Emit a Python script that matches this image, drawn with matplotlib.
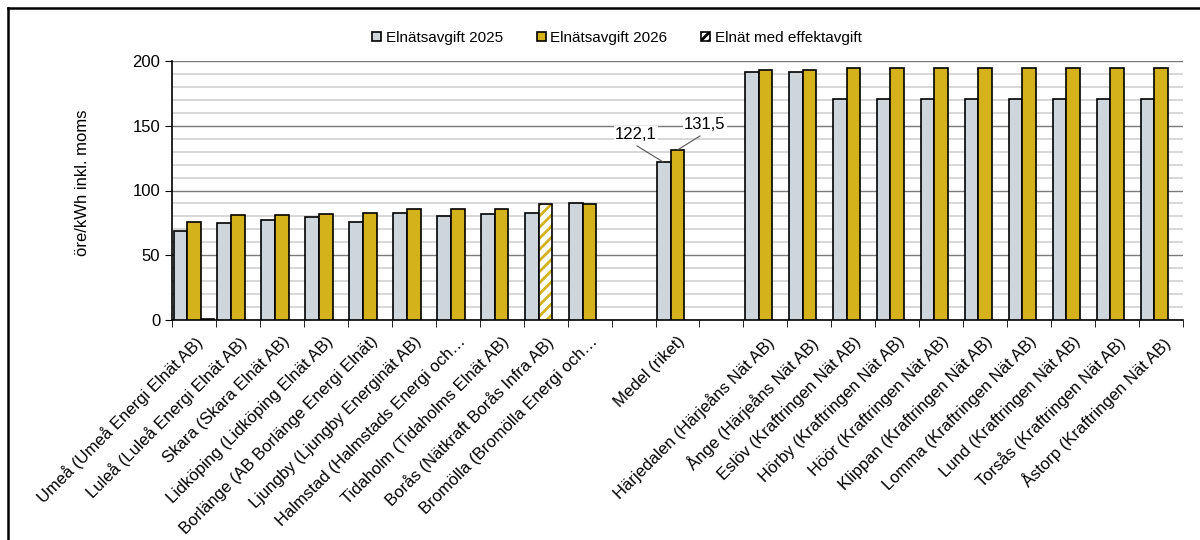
import matplotlib
matplotlib.use("Agg")
import matplotlib.pyplot as plt
from matplotlib.patches import Rectangle
from matplotlib.lines import Line2D
import numpy as np

plt.rcParams['font.family'] = ['Liberation Sans', 'DejaVu Sans']
plt.rcParams['hatch.linewidth'] = 2.0

nan = np.nan
categories = [
    "Umeå (Umeå Energi Elnät AB)", "Luleå (Luleå Energi Elnät AB)",
    "Skara (Skara Elnät AB)", "Lidköping (Lidköping Elnät AB)",
    "Borlänge (AB Borlänge Energi Elnät)", "Ljungby (Ljungby Energinät AB)",
    "Halmstad (Halmstads Energi och…", "Tidaholm (Tidaholms Elnät AB)",
    "Borås (Nätkraft Borås Infra AB)", "Bromölla (Bromölla Energi och…",
    "", "Medel (riket)", "",
    "Härjedalen (Härjeåns Nät AB)", "Ånge (Härjeåns Nät AB)",
    "Eslöv (Kraftringen Nät AB)", "Hörby (Kraftringen Nät AB)",
    "Höör (Kraftringen Nät AB)", "Klippan (Kraftringen Nät AB)",
    "Lomma (Kraftringen Nät AB)", "Lund (Kraftringen Nät AB)",
    "Torsås (Kraftringen Nät AB)", "Åstorp (Kraftringen Nät AB)",
]
avg_2025 = [68.9, 74.6, 77.2, 79.5, 75.6, 82.3, 80.0, 81.8, 82.8, 90.6,
            nan, 122.1, nan,
            191.7, 191.7, 170.6, 170.6, 170.6, 170.6, 170.6, 170.6, 170.6, 170.6]
avg_2026 = [75.4, 81.0, 81.0, 82.1, 82.6, 85.4, 85.9, 85.9, nan, 89.8,
            nan, 131.5, nan,
            193.3, 193.3, 194.8, 194.8, 194.8, 194.8, 194.8, 194.8, 194.8, 194.8]
# Borås 2026 value has effektavgift (drawn hatched in the 2026 slot)
effekt_2026 = [nan] * 8 + [89.5] + [nan] * 14
# the third series only shows a sliver at Umeå
effekt_series = [0.8] + [nan] * 22

GRAY = "#CED6DC"
GOLD = "#D3B21C"

fig = plt.figure(figsize=(12, 5.4), dpi=100)
ax = fig.add_axes([172 / 1200, 1 - 320 / 540, (1183 - 172) / 1200, (320 - 61) / 540])

x = np.arange(len(categories))
w = 0.31
ax.bar(x - w, avg_2025, w, color=GRAY, edgecolor="black", linewidth=1.2, zorder=3)
ax.bar(x, avg_2026, w, color=GOLD, edgecolor="black", linewidth=1.2, zorder=3)
ax.bar(x, effekt_2026, w, color="white", edgecolor=GOLD, hatch="///", linewidth=0, zorder=3)
ax.bar(x, effekt_2026, w, fill=False, edgecolor="black", linewidth=1.2, zorder=4)
ax.bar(x + w, effekt_series, w, color="black", edgecolor="black", linewidth=1.2, zorder=3)

ax.set_xlim(-0.5, len(categories) - 0.5)
ax.set_ylim(0, 200)
ax.set_yticks(np.arange(0, 201, 50))
ax.set_yticks(np.arange(0, 201, 10), minor=True)
ax.grid(axis="y", which="minor", color="#D4D4D4", linewidth=1.3, zorder=0)
ax.grid(axis="y", which="major", color="#7A7A7A", linewidth=1.0, zorder=1)
ax.tick_params(axis="y", which="minor", length=0)
ax.tick_params(axis="y", which="major", length=5, labelsize=12, color="black")

ax.set_xticks(x)
ax.set_xticklabels(categories, rotation=45, ha="right", va="top",
                   rotation_mode="anchor", fontsize=12)
ax.set_xticks(np.arange(-0.5, len(categories)), minor=True)
ax.tick_params(axis="x", which="major", length=0, pad=10)
ax.tick_params(axis="x", which="minor", length=5, color="black")

for s in ["top", "right"]:
    ax.spines[s].set_visible(False)
for s in ["left", "bottom"]:
    ax.spines[s].set_color("black")
    ax.spines[s].set_linewidth(1.2)

ax.set_ylabel("öre/kWh inkl. moms", fontsize=12)
ax.yaxis.set_label_coords(-0.081, 0.53)

# Medel labels with leader lines
ax.plot([10.08, 10.67], [134.4, 122.1], color="#555555", linewidth=0.8, zorder=5)
ax.plot([11.01, 11.51], [131.5, 142.1], color="#555555", linewidth=0.8, zorder=5)
ax.text(10.055, 142.9, "122,1", ha="center", va="center", fontsize=12, zorder=6,
        bbox=dict(facecolor="white", edgecolor="none", pad=1))
ax.text(11.625, 150.6, "131,5", ha="center", va="center", fontsize=12, zorder=6,
        bbox=dict(facecolor="white", edgecolor="none", pad=1))

handles = [
    Rectangle((0, 0), 1, 1, facecolor=GRAY, edgecolor="black", linewidth=1.2),
    Rectangle((0, 0), 1, 1, facecolor=GOLD, edgecolor="black", linewidth=1.2),
    Rectangle((0, 0), 1, 1, facecolor="white", edgecolor="black", hatch="////", linewidth=1.2),
]
fig.legend(handles, ["Elnätsavgift 2025", "Elnätsavgift 2026", "Elnät med effektavgift"],
           loc="center", bbox_to_anchor=(617 / 1200, 1 - 38 / 540), ncol=3, frameon=False,
           fontsize=11, handlelength=0.6, handleheight=0.6, handletextpad=0.3,
           columnspacing=2.2)

# outer chart border (cropped on right/bottom)
fig.add_artist(Line2D([8 / 1200, 8 / 1200], [0, 1 - 8 / 540], color="black", linewidth=1.8))
fig.add_artist(Line2D([8 / 1200, 1], [1 - 8 / 540, 1 - 8 / 540], color="black", linewidth=1.8))

fig.savefig("out.png", dpi=100)
